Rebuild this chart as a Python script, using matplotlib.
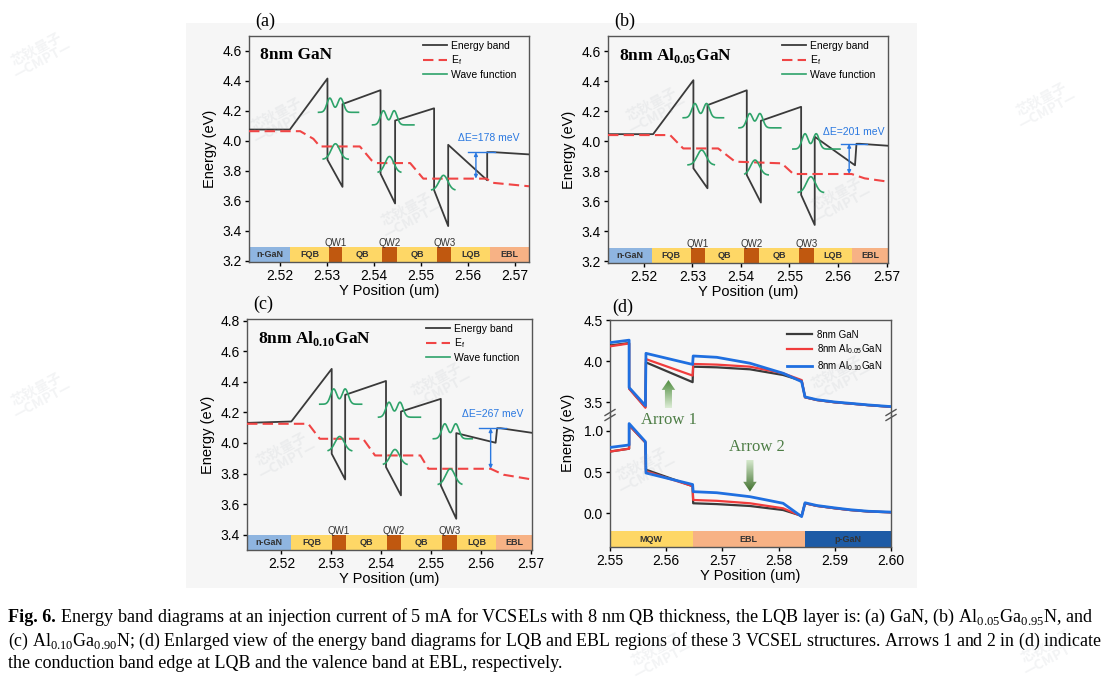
import numpy as np
import matplotlib.pyplot as plt
from matplotlib.patches import Rectangle, FancyArrow
from matplotlib.lines import Line2D
from matplotlib.colors import LinearSegmentedColormap

plt.rcParams['font.family'] = ['Liberation Sans', 'DejaVu Sans']
plt.rcParams['axes.linewidth'] = 1.0
plt.rcParams['xtick.direction'] = 'out'
plt.rcParams['ytick.direction'] = 'out'

# ---------------- data ----------------
layer_names = ['n-GaN', 'FQB', 'QW1', 'QB', 'QW2', 'QB', 'QW3', 'LQB', 'EBL']

# layer boundaries (um)
a_edges = [2.5134, 2.5221, 2.5305, 2.5333, 2.5418, 2.5450, 2.5535, 2.5565, 2.5647, 2.5730]
b_edges = [2.5126, 2.5216, 2.5297, 2.5326, 2.5407, 2.5437, 2.5520, 2.5551, 2.5629, 2.5703]
c_edges = [2.5131, 2.5220, 2.5301, 2.5330, 2.5411, 2.5440, 2.5523, 2.5552, 2.5631, 2.5703]

# energy band (conduction band edge)
a_band_x = [2.5134, 2.5221, 2.5301, 2.5301, 2.5333, 2.5333, 2.5414, 2.5414, 2.5445, 2.5445,
            2.5528, 2.5528, 2.5558, 2.5558, 2.5641, 2.5641, 2.5654, 2.5730]
a_band_e = [4.075, 4.075, 4.416, 3.873, 3.692, 4.245, 4.338, 3.780, 3.581, 4.135,
            4.217, 3.670, 3.430, 3.973, 3.736, 3.924, 3.924, 3.909]
b_band_x = [2.5126, 2.5219, 2.5302, 2.5302, 2.5331, 2.5331, 2.5412, 2.5412, 2.5441, 2.5441,
            2.5524, 2.5524, 2.5552, 2.5552, 2.5635, 2.5638, 2.5645, 2.5703]
b_band_e = [4.047, 4.047, 4.406, 3.820, 3.687, 4.240, 4.339, 3.775, 3.592, 4.136,
            4.229, 3.643, 3.443, 4.030, 3.840, 3.983, 3.983, 3.970]
c_band_x = [2.5131, 2.5220, 2.5301, 2.5301, 2.5328, 2.5328, 2.5410, 2.5410, 2.5440, 2.5440,
            2.5520, 2.5520, 2.5551, 2.5551, 2.5630, 2.5633, 2.5640, 2.5703]
c_band_e = [4.131, 4.140, 4.484, 3.929, 3.761, 4.314, 4.405, 3.842, 3.657, 4.205,
            4.288, 3.722, 3.504, 4.064, 4.001, 4.096, 4.096, 4.066]

# quasi Fermi level
a_ef_x = [2.5134, 2.5243, 2.5271, 2.5285, 2.5370, 2.5395, 2.5406, 2.5477, 2.5505, 2.5640, 2.5650, 2.5730]
a_ef_e = [4.064, 4.064, 4.013, 3.962, 3.962, 3.869, 3.851, 3.851, 3.747, 3.747, 3.720, 3.696]
b_ef_x = [2.5126, 2.5254, 2.5281, 2.5353, 2.5388, 2.5484, 2.5508, 2.5628, 2.5655, 2.5703]
b_ef_e = [4.041, 4.041, 3.952, 3.952, 3.864, 3.853, 3.782, 3.782, 3.753, 3.731]
c_ef_x = [2.5131, 2.5254, 2.5277, 2.5364, 2.5388, 2.5479, 2.5495, 2.5620, 2.5646, 2.5703]
c_ef_e = [4.125, 4.125, 4.027, 4.027, 3.918, 3.918, 3.831, 3.831, 3.792, 3.761]

# wave functions: baseline span, level, peak centres, peak height
a_wf_left = [2.5282, 2.5292, 2.5397, 2.5409, 2.5523]
a_wf_right = [2.5367, 2.5345, 2.5485, 2.5457, 2.5572]
a_wf_level = [4.190, 3.876, 4.106, 3.787, 3.670]
a_wf_peaks = [[2.5306, 2.5329], [2.5318], [2.5420, 2.5443], [2.5433], [2.5548]]
a_wf_height = [0.095, 0.104, 0.095, 0.108, 0.099]

b_wf_left = [2.5281, 2.5291, 2.5396, 2.5408, 2.5507, 2.5518]
b_wf_right = [2.5364, 2.5345, 2.5482, 2.5456, 2.5604, 2.5570]
b_wf_level = [4.156, 3.842, 4.089, 3.775, 3.948, 3.658]
b_wf_peaks = [[2.5305, 2.5329], [2.5319], [2.5418, 2.5439], [2.5429], [2.5532, 2.5555], [2.5544]]
b_wf_height = [0.095, 0.099, 0.095, 0.100, 0.102, 0.106]

c_wf_left = [2.5277, 2.5294, 2.5395, 2.5405, 2.5505, 2.5515]
c_wf_right = [2.5361, 2.5341, 2.5479, 2.5452, 2.5583, 2.5562]
c_wf_level = [4.253, 3.946, 4.168, 3.857, 4.027, 3.726]
c_wf_peaks = [[2.5305, 2.5328], [2.5317], [2.5416, 2.5438], [2.5428], [2.5528, 2.5550], [2.5539]]
c_wf_height = [0.100, 0.096, 0.098, 0.100, 0.098, 0.105]

# delta E markers: x, Ef level, band level, bar span, label position
a_de = dict(x=2.5617, lo=3.747, hi=3.924, bar=(2.5601, 2.5657), tx=2.5645, ty=4.02, label='ΔE=178 meV')
b_de = dict(x=2.5623, lo=3.782, hi=3.983, bar=(2.5607, 2.5660), tx=2.5633, ty=4.063, label='ΔE=201 meV')
c_de = dict(x=2.5620, lo=3.831, hi=4.096, bar=(2.5596, 2.5650), tx=2.5624, ty=4.19, label='ΔE=267 meV')

# panel (d): enlarged LQB / EBL region
d_edges = [2.550, 2.5647, 2.5847, 2.600]
d_layers = ['MQW', 'EBL', 'p-GaN']
d_names = ['8nm GaN', '8nm Al$_\\mathregular{0.05}$GaN', '8nm Al$_\\mathregular{0.10}$GaN']
d_x = [2.5500, 2.5534, 2.5534, 2.5563, 2.5564, 2.5647, 2.5648, 2.5690, 2.5749, 2.5808,
       2.5841, 2.5847, 2.5868, 2.5900, 2.5927, 2.5960, 2.6000]
d_cb = [
    [4.190, 4.220, 3.670, 3.440, 3.985, 3.745, 3.933, 3.925, 3.901, 3.832, 3.763, 3.561, 3.528, 3.500, 3.485, 3.465, 3.445],
    [4.180, 4.215, 3.665, 3.435, 4.025, 3.825, 3.966, 3.958, 3.933, 3.853, 3.770, 3.561, 3.528, 3.500, 3.485, 3.465, 3.445],
    [4.225, 4.255, 3.680, 3.460, 4.095, 3.960, 4.063, 4.047, 3.975, 3.853, 3.751, 3.566, 3.532, 3.504, 3.488, 3.468, 3.448],
]
d_vb = [
    [0.750, 0.785, 1.070, 0.860, 0.530, 0.330, 0.122, 0.112, 0.089, 0.040, -0.030, 0.122, 0.090, 0.061, 0.040, 0.022, 0.012],
    [0.750, 0.785, 1.070, 0.860, 0.510, 0.330, 0.162, 0.152, 0.122, 0.061, -0.035, 0.122, 0.090, 0.061, 0.040, 0.022, 0.012],
    [0.800, 0.830, 1.090, 0.870, 0.490, 0.350, 0.263, 0.250, 0.202, 0.122, -0.040, 0.128, 0.095, 0.066, 0.044, 0.025, 0.015],
]
d_colors = ['#3a3a3a', '#f03c3c', '#1f6fe0']
d_lw = [1.6, 1.6, 2.0]

# faint publisher watermarks (pixel positions)
wm_x = [40, 280, 410, 655, 840, 1045, 285, 440, 840, 645, 40, 660, 1050]
wm_y = [55, 120, 215, 110, 200, 105, 455, 385, 378, 470, 395, 655, 652]

# caption lines
cap_lines = [
    ' Energy band diagrams at an injection current of 5 mA for VCSELs with 8 nm QB thickness, '
    'the LQB layer is: (a) GaN, (b) Al$_\\mathregular{0.05}$Ga$_\\mathregular{0.95}$N, and',
    '(c) Al$_\\mathregular{0.10}$Ga$_\\mathregular{0.90}$N; (d) Enlarged view of the energy band '
    'diagrams for LQB and EBL regions of these 3 VCSEL structures. Arrows 1 and 2 in (d) indicate',
    'the conduction band edge at LQB and the valence band at EBL, respectively.',
]
cap_sizes = [13.05, 12.85, 13.0]
cap_y = [617, 641, 664]

# ---------------- style ----------------
W, H = 1106, 680
GREEN = '#2ea36a'
RED = '#f04545'
BLUE = '#2a78e0'
BAND = '#3a3a3a'
layer_colors = {'n-GaN': '#8fb5e0', 'FQB': '#fed766', 'QB': '#fed766', 'LQB': '#fed766',
                'QW1': '#c0580f', 'QW2': '#c0580f', 'QW3': '#c0580f', 'EBL': '#f7b285',
                'MQW': '#fed766', 'p-GaN': '#1d5ba6'}


def frac(l, t, r, b):
    return [l / W, 1 - b / H, (r - l) / W, (b - t) / H]


fig = plt.figure(figsize=(W / 100, H / 100), dpi=100)
fig.patch.set_facecolor('white')
fig.add_artist(Rectangle((186 / W, 1 - 588 / H), (917 - 186) / W, (588 - 23) / H,
                         transform=fig.transFigure, facecolor='#f6f6f6', edgecolor='none', zorder=0))


def style_axes(ax):
    ax.set_facecolor('none')
    ax.tick_params(labelsize=10, length=3, pad=2, width=1)
    for s in ax.spines.values():
        s.set_color('#555555')


def draw_strip(ax, edges, names, y0, y1, fs=6.5):
    for i, nm in enumerate(names):
        ax.add_patch(Rectangle((edges[i], y0), edges[i + 1] - edges[i], y1 - y0,
                               facecolor=layer_colors[nm], edgecolor='none', zorder=1))
        xc = 0.5 * (edges[i] + edges[i + 1])
        if nm.startswith('QW'):
            ax.text(xc, y1 + 0.022, nm, ha='center', va='center', fontsize=fs + 0.5, color='#333333', zorder=6)
        else:
            ax.text(xc, 0.5 * (y0 + y1), nm, ha='center', va='center', fontsize=fs,
                    color='#333333', fontweight='bold', zorder=6)


def band_panel(rect, edges, bx, be, ex, ee, wl, wr, wlev, wpk, wh, de, ylim, yticks, title, letter):
    ax = fig.add_axes(rect)
    style_axes(ax)
    ax.set_xlim(edges[0], edges[-1])
    ax.set_ylim(*ylim)
    draw_strip(ax, edges, layer_names, ylim[0], yticks[0] + 0.093 if ylim[0] < 3.25 else ylim[0] + 0.10)
    ax.plot(bx, be, color=BAND, lw=1.3, zorder=3)
    ax.plot(ex, ee, color=RED, lw=1.5, dashes=(5, 2.5), zorder=3)
    for l, r, lev, pk, h in zip(wl, wr, wlev, wpk, wh):
        xs = np.linspace(l, r, 300)
        sig = 0.00062 if len(pk) > 1 else 0.00092
        ys = np.full_like(xs, lev)
        for p in pk:
            ys = ys + h * np.exp(-0.5 * ((xs - p) / sig) ** 2)
        ax.plot(xs, ys, color=GREEN, lw=1.2, zorder=4)
    # delta E marker
    ax.plot(de['bar'], [de['hi'], de['hi']], color=BLUE, lw=1.0, zorder=5)
    ax.annotate('', xy=(de['x'], de['hi']), xytext=(de['x'], de['lo']),
                arrowprops=dict(arrowstyle='<|-|>', color=BLUE, lw=1.0, mutation_scale=5,
                                shrinkA=0, shrinkB=0), zorder=5)
    ax.text(de['tx'], de['ty'], de['label'], color=BLUE, fontsize=7.5, ha='center', va='center', zorder=6)
    ax.set_xticks([2.52, 2.53, 2.54, 2.55, 2.56, 2.57])
    ax.set_yticks(yticks)
    ax.set_xticklabels(['2.52', '2.53', '2.54', '2.55', '2.56', '2.57'])
    ax.set_yticklabels(['%.1f' % v for v in yticks])
    ax.set_xlabel('Y Position (um)', fontsize=10.5, labelpad=1)
    ax.set_ylabel('Energy (eV)', fontsize=10.5, labelpad=4)
    ax.text(0.04, 0.915, title, transform=ax.transAxes, fontsize=12.5, fontweight='bold',
            family=['Liberation Serif'], ha='left', va='center', zorder=6)
    handles = [Line2D([], [], color=BAND, lw=1.3),
               Line2D([], [], color=RED, lw=1.5, dashes=(5, 2.5)),
               Line2D([], [], color=GREEN, lw=1.2)]
    ax.legend(handles, ['Energy band', 'E$_\\mathregular{f}$', 'Wave function'], loc='upper right',
              bbox_to_anchor=(0.99, 1.02), frameon=False, fontsize=7.5, handlelength=2.3,
              labelspacing=0.25, handletextpad=0.4)
    fig.text(rect[0] + 0.006, rect[1] + rect[3] + 0.022, letter, fontsize=13,
             family=['Liberation Serif'], ha='left', va='center')
    return ax


band_panel(frac(249, 36, 529, 262), a_edges, a_band_x, a_band_e, a_ef_x, a_ef_e,
           a_wf_left, a_wf_right, a_wf_level, a_wf_peaks, a_wf_height, a_de,
           (3.19, 4.70), [3.2, 3.4, 3.6, 3.8, 4.0, 4.2, 4.4, 4.6], '8nm GaN', '(a)')
band_panel(frac(608, 36, 888, 263), b_edges, b_band_x, b_band_e, b_ef_x, b_ef_e,
           b_wf_left, b_wf_right, b_wf_level, b_wf_peaks, b_wf_height, b_de,
           (3.19, 4.70), [3.2, 3.4, 3.6, 3.8, 4.0, 4.2, 4.4, 4.6],
           '8nm Al$_\\mathregular{0.05}$GaN', '(b)')
band_panel(frac(247, 319, 532, 550), c_edges, c_band_x, c_band_e, c_ef_x, c_ef_e,
           c_wf_left, c_wf_right, c_wf_level, c_wf_peaks, c_wf_height, c_de,
           (3.30, 4.81), [3.4, 3.6, 3.8, 4.0, 4.2, 4.4, 4.6, 4.8],
           '8nm Al$_\\mathregular{0.10}$GaN', '(c)')

# ---------------- panel (d) with broken y axis ----------------
axu = fig.add_axes(frac(610, 320, 891, 415))
axl = fig.add_axes(frac(610, 415, 891, 547))
for ax in (axu, axl):
    style_axes(ax)
    ax.set_xlim(2.55, 2.60)
axu.set_ylim(3.346, 4.50)
axl.set_ylim(-0.409, 1.194)
axu.spines['bottom'].set_visible(False)
axl.spines['top'].set_visible(False)
axu.tick_params(axis='x', bottom=False, labelbottom=False)
axu.set_yticks([3.5, 4.0, 4.5])
axl.set_yticks([0.0, 0.5, 1.0])
axl.set_xticks([2.55, 2.56, 2.57, 2.58, 2.59, 2.60])
axl.set_xticklabels(['2.55', '2.56', '2.57', '2.58', '2.59', '2.60'])
axl.set_xlabel('Y Position (um)', fontsize=10.5, labelpad=1)
fig.text(568 / W, 1 - 433 / H, 'Energy (eV)', rotation=90, fontsize=10.5, ha='center', va='center')

for i in range(3):
    axu.plot(d_x, d_cb[i], color=d_colors[i], lw=d_lw[i], zorder=3 + i)
    axl.plot(d_x, d_vb[i], color=d_colors[i], lw=d_lw[i], zorder=3 + i, label=d_names[i])
for i, nm in enumerate(d_layers):
    axl.add_patch(Rectangle((d_edges[i], -0.409), d_edges[i + 1] - d_edges[i], 0.194,
                            facecolor=layer_colors[nm], edgecolor='none', zorder=1))
    axl.text(0.5 * (d_edges[i] + d_edges[i + 1]), -0.312, nm, ha='center', va='center',
             fontsize=6.5, color='#333333', fontweight='bold', zorder=6)

leg_handles = [Line2D([], [], color=d_colors[i], lw=d_lw[i]) for i in range(3)]
axu.legend(leg_handles, d_names, loc='upper right', bbox_to_anchor=(1.0, 0.99), frameon=False,
           fontsize=7, handlelength=2.6, labelspacing=0.3, handletextpad=0.5)

# break marks on the y axis
yb = 1 - 415 / H
for xb in (610 / W, 891 / W):
    for off in (-2.5, 2.5):
        fig.add_artist(Line2D([xb - 5 / W, xb + 5 / W], [yb + (off - 3) / H, yb + (off + 3) / H],
                              transform=fig.transFigure, color='#555555', lw=1.0, zorder=10))


def grad_arrow(ax, x, y_tail, y_tip, shaft_w, head_w, head_len, c_tail, c_tip):
    arr = FancyArrow(x, y_tail, 0, y_tip - y_tail, width=shaft_w, head_width=head_w,
                     head_length=head_len, length_includes_head=True,
                     facecolor='none', edgecolor='none')
    ax.add_patch(arr)
    cmap = LinearSegmentedColormap.from_list('g', [c_tail, c_tip])
    grad = np.linspace(0, 1, 100).reshape(-1, 1)
    lo, hi = min(y_tail, y_tip), max(y_tail, y_tip)
    if y_tip < y_tail:
        grad = grad[::-1]
    im = ax.imshow(grad, extent=[x - head_w, x + head_w, lo, hi], origin='lower',
                   cmap=cmap, aspect='auto', zorder=6)
    im.set_clip_path(arr)


grad_arrow(axu, 2.5604, 3.428, 3.771, 0.00125, 0.0024, 0.12, '#dcecd5', '#4c8a3c')
grad_arrow(axl, 2.5749, 0.648, 0.263, 0.00125, 0.0024, 0.12, '#d5e8cc', '#3e6f2c')
axu.set_xlim(2.55, 2.60)
axu.set_ylim(3.346, 4.50)
axl.set_xlim(2.55, 2.60)
axl.set_ylim(-0.409, 1.194)
axl.text(2.5604, 1.134, 'Arrow 1', family=['Liberation Serif'], fontsize=12, color='#4d7d45',
         ha='center', va='center', zorder=7)
axl.text(2.5762, 0.81, 'Arrow 2', family=['Liberation Serif'], fontsize=12, color='#4d7d45',
         ha='center', va='center', zorder=7)
fig.text(612 / W, 1 - 307 / H, '(d)', fontsize=13, family=['Liberation Serif'], ha='left', va='center')

# watermarks
for x, y in zip(wm_x, wm_y):
    fig.text(x / W, 1 - y / H, '芯钬量子\n—CMPT—', family=['Noto Sans CJK SC', 'DejaVu Sans'],
             fontsize=10, color='#9aa3ad', alpha=0.12, rotation=28, ha='center', va='center',
             fontweight='bold', linespacing=0.9, zorder=20)

# ---------------- caption ----------------
serif = ['Liberation Serif', 'DejaVu Serif']
t0 = fig.text(8 / W, 1 - cap_y[0] / H, 'Fig. 6.', fontsize=cap_sizes[0], family=serif,
              fontweight='bold', ha='left', va='center')
renderer = fig.canvas.get_renderer()
x_starts = [t0.get_window_extent(renderer).x1 / W, 8 / W, 8 / W]
for txt, fs, y, x0 in zip(cap_lines, cap_sizes, cap_y, x_starts):
    fig.text(x0, 1 - y / H, txt, fontsize=fs, family=serif, ha='left', va='center')

fig.savefig('out.png', dpi=100)
